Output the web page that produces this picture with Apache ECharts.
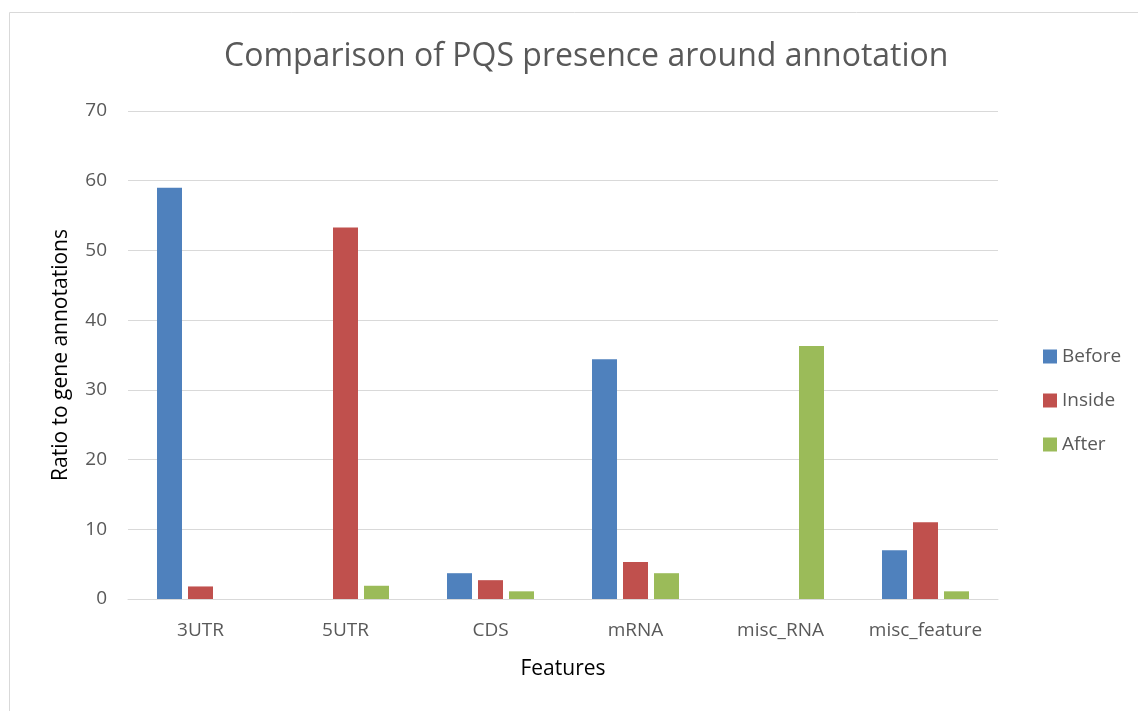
<!DOCTYPE html>
<html>
<head>
<meta charset="utf-8">
<script src="https://cdn.jsdelivr.net/npm/echarts@6/dist/echarts.min.js"></script>
<style>
html, body { margin: 0; padding: 0; background: #fff; }
#chart { width: 1138px; height: 711px; }
</style>
</head>
<body>
<div id="chart"></div>
<script>
var categories = ['3UTR', '5UTR', 'CDS', 'mRNA', 'misc_RNA', 'misc_feature'];
var seriesNames = ['Before', 'Inside', 'After'];
var beforeVals = [59.0, 0, 3.7, 34.4, 0, 7.0];
var insideVals = [1.8, 53.3, 2.7, 5.3, 0, 11.0];
var afterVals = [0, 1.9, 1.1, 3.7, 36.3, 1.1];
var colors = ['#4F81BD', '#C0504D', '#9BBB59'];

var ff = '"Open Sans", "Noto Sans", sans-serif';

var myChart = echarts.init(document.getElementById('chart'));

function makeBar(name, data, color) {
    return {
        name: name,
        type: 'bar',
        data: data,
        barWidth: 25,
        barGap: '24%',
        itemStyle: { color: color }
    };
}

var option = {
    animation: false,
    color: colors,
    graphic: [{
        type: 'rect',
        shape: { x: 9.5, y: 12.5, width: 1300, height: 900 },
        style: { fill: 'none', stroke: '#d9d9d9', lineWidth: 1 }
    }],
    title: {
        text: 'Comparison of PQS presence around annotation',
        left: 219,
        top: 36,
        textStyle: { fontFamily: ff, fontSize: 32, fontWeight: 'normal', color: '#595959' }
    },
    legend: {
        orient: 'vertical',
        left: 1038,
        top: 342,
        itemWidth: 14,
        itemHeight: 14,
        itemGap: 25,
        icon: 'rect',
        data: seriesNames,
        textStyle: { fontFamily: ff, fontSize: 19, color: '#595959', lineHeight: 19 }
    },
    grid: {
        left: 128,
        right: 140,
        top: 111,
        bottom: 112
    },
    xAxis: {
        type: 'category',
        data: categories,
        name: 'Features',
        nameLocation: 'middle',
        nameGap: 60,
        nameTextStyle: { fontFamily: ff, fontSize: 21, color: '#000' },
        axisLine: { lineStyle: { color: '#d9d9d9', width: 1 } },
        axisTick: { show: false },
        axisLabel: { interval: 0, fontFamily: ff, fontSize: 19, color: '#595959', margin: 22 }
    },
    yAxis: {
        type: 'value',
        min: 0,
        max: 70,
        interval: 10,
        name: 'Ratio to gene annotations',
        nameLocation: 'middle',
        nameGap: 56,
        nameTextStyle: { fontFamily: ff, fontSize: 21, color: '#000' },
        axisLine: { show: false },
        axisTick: { show: false },
        axisLabel: { fontFamily: ff, fontSize: 19, color: '#595959', margin: 21 },
        splitLine: { lineStyle: { color: '#d9d9d9', width: 1 } }
    },
    series: [
        makeBar(seriesNames[0], beforeVals, colors[0]),
        makeBar(seriesNames[1], insideVals, colors[1]),
        makeBar(seriesNames[2], afterVals, colors[2])
    ]
};

myChart.setOption(option);
</script>
</body>
</html>
